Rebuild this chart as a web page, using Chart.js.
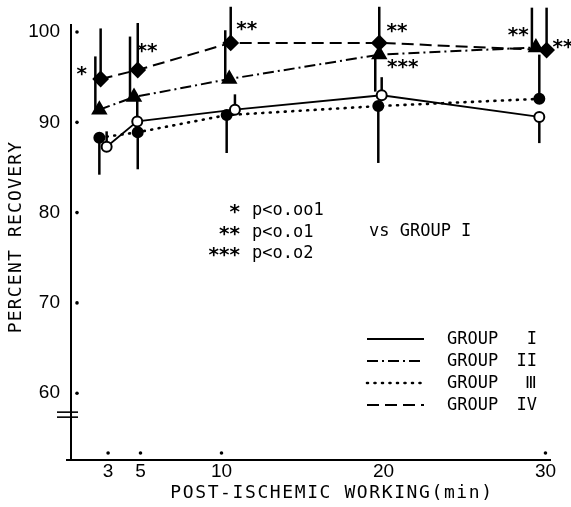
<!DOCTYPE html>
<html lang="en">
<head>
<meta charset="UTF-8">
<title>Percent recovery</title>
<script src="https://cdn.jsdelivr.net/npm/chart.js"></script>
<style>
  html, body { margin: 0; padding: 0; background: #fff; }
  canvas { display: block; }
</style>
</head>
<body>
<canvas id="chart" width="571" height="507"></canvas>
<script>
// tick labels
const xTicks = [3, 5, 10, 20, 30];
const yTicks = [60, 70, 80, 90, 100];
const xTickDots = [3, 5, 10, 30];

// plotted times (points are drawn a little off the nominal minute)
const groupIX   = [2.91, 4.80, 10.83, 19.89, 29.62];
const groupIIX  = [2.46, 4.60, 10.48, 19.74, 29.41];
const groupIIIX = [2.46, 4.83, 10.32, 19.68, 29.62];
const groupIVX  = [2.54, 4.83, 10.57, 19.74, 30.07];

// percent recovery
const groupI   = [87.3, 90.1, 91.4, 93.0, 90.6];
const groupII  = [91.4, 92.8, 94.8, 97.5, 98.3];
const groupIII = [88.3, 88.9, 90.8, 91.8, 92.6];
const groupIV  = [94.8, 95.8, 98.8, 98.8, 98.0];

// error bar ends (null = no bar on that side)
const groupIHigh   = [89.0, 92.8, 93.1, 95.0, null];
const groupILow    = [null, null, null, null, 87.7];
const groupIIHigh  = [97.3, 99.5, 100.2, null, 102.7];
const groupIILow   = [null, null, null, 93.4, null];
const groupIIIHigh = [null, null, null, null, 97.5];
const groupIIILow  = [84.2, 84.8, 86.6, 85.5, null];
const groupIVHigh  = [100.4, 101.0, 102.8, 102.8, 102.7];
const groupIVLow   = [null, null, null, null, null];

// significance marks
const starText = ['*', '**', '**', '**', '***', '**', '**'];
const starX    = [1.37, 5.40, 11.56, 20.83, 21.19, 28.32, 31.08];
const starY    = [95.5, 98.0, 100.5, 100.2, 96.2, 99.8, 98.4];

const legendStars = ['*', '**', '***'];
const legendP = ['p<o.oo1', 'p<o.o1', 'p<o.o2'];
const legendGroups = ['I', 'II', 'Ⅲ', 'IV'];

const MONO = '"DejaVu Sans Mono", monospace';
const STAR = 'bold 20px "DejaVu Sans", sans-serif';

function pts(xs, ys) { return xs.map((x, i) => ({ x: x, y: ys[i] })); }

const groups = [
  { label: 'GROUP I', data: pts(groupIX, groupI), hi: groupIHigh, lo: groupILow,
    borderDash: [], pointStyle: 'circle', pointRadius: 5, bg: '#fff', barShift: 0, lw: 1.8 },
  { label: 'GROUP II', data: pts(groupIIX, groupII), hi: groupIIHigh, lo: groupIILow,
    borderDash: [11, 4, 2, 4], pointStyle: 'triangle', pointRadius: 7.5, bg: '#000', barShift: -4, lw: 2 },
  { label: 'GROUP III', data: pts(groupIIIX, groupIII), hi: groupIIIHigh, lo: groupIIILow,
    borderDash: [1, 6.5], pointStyle: 'circle', pointRadius: 5, bg: '#000', barShift: 0, lw: 2.6 },
  { label: 'GROUP IV', data: pts(groupIVX, groupIV), hi: groupIVHigh, lo: groupIVLow,
    borderDash: [12, 6], pointStyle: 'rectRot', pointRadius: 7, bg: '#000', barShift: 0, lw: 2 }
];

const decor = {
  id: 'decor',
  beforeDatasetsDraw(chart) {
    const ctx = chart.ctx, xs = chart.scales.x, ys = chart.scales.y;
    ctx.save();
    ctx.strokeStyle = '#000';
    ctx.lineWidth = 2.5;
    groups.forEach(g => {
      g.data.forEach((p, i) => {
        const px = xs.getPixelForValue(p.x) + g.barShift;
        const py = ys.getPixelForValue(p.y);
        [g.hi[i], g.lo[i]].forEach(end => {
          if (end === null) return;
          ctx.beginPath();
          ctx.moveTo(px, py);
          ctx.lineTo(px, ys.getPixelForValue(end));
          ctx.stroke();
        });
      });
    });
    ctx.restore();
  },
  afterDraw(chart) {
    const ctx = chart.ctx, xs = chart.scales.x, ys = chart.scales.y, a = chart.chartArea;
    ctx.save();
    ctx.fillStyle = '#000';
    ctx.strokeStyle = '#000';

    // tick dots inside the frame
    yTicks.forEach(v => {
      ctx.beginPath();
      ctx.arc(a.left + 6, ys.getPixelForValue(v), 1.8, 0, Math.PI * 2);
      ctx.fill();
    });
    xTickDots.forEach(v => {
      ctx.beginPath();
      ctx.arc(xs.getPixelForValue(v), a.bottom - 7, 1.8, 0, Math.PI * 2);
      ctx.fill();
    });

    // x axis runs a bit past the y axis
    ctx.lineWidth = 2;
    ctx.beginPath();
    ctx.moveTo(a.left - 5, a.bottom);
    ctx.lineTo(a.left, a.bottom);
    ctx.stroke();

    // axis break
    const yb = ys.getPixelForValue(57.9);
    ctx.lineWidth = 1.6;
    [yb, yb + 5].forEach(y => {
      ctx.beginPath();
      ctx.moveTo(a.left - 14, y);
      ctx.lineTo(a.left + 7, y);
      ctx.stroke();
    });

    // significance stars on the plot
    ctx.font = STAR;
    ctx.textAlign = 'center';
    ctx.textBaseline = 'alphabetic';
    starText.forEach((t, i) => {
      ctx.fillText(t, xs.getPixelForValue(starX[i]), ys.getPixelForValue(starY[i]) + 7);
    });

    // star key
    legendStars.forEach((s, i) => {
      const y = 211 + i * 21.5;
      ctx.font = STAR;
      ctx.textAlign = 'right';
      ctx.textBaseline = 'alphabetic';
      ctx.fillText(s, 240, y + 7);
      ctx.font = '17px ' + MONO;
      ctx.textAlign = 'left';
      ctx.textBaseline = 'middle';
      ctx.fillText(legendP[i], 252, y);
    });
    ctx.fillText('vs GROUP I', 369, 232);

    // line key
    groups.forEach((g, i) => {
      const y = 339 + i * 22;
      ctx.lineWidth = g.lw;
      ctx.lineCap = g.borderDash.length && g.borderDash[0] < 2 ? 'round' : 'butt';
      ctx.setLineDash(g.borderDash);
      ctx.beginPath();
      ctx.moveTo(367, y);
      ctx.lineTo(424, y);
      ctx.stroke();
      ctx.setLineDash([]);
      ctx.textAlign = 'left';
      ctx.fillText('GROUP', 447, y + 1);
      ctx.textAlign = 'right';
      ctx.fillText(legendGroups[i], 537, y + 1);
    });

    // axis titles
    ctx.font = '18px ' + MONO;
    ctx.textAlign = 'center';
    ctx.textBaseline = 'middle';
    ctx.letterSpacing = '1.6px';
    ctx.fillText('POST-ISCHEMIC WORKING(min)', 332, 493);
    ctx.letterSpacing = '1.2px';
    ctx.translate(16, 237);
    ctx.rotate(-Math.PI / 2);
    ctx.fillText('PERCENT RECOVERY', 0, 0);
    ctx.restore();
  }
};

new Chart(document.getElementById('chart').getContext('2d'), {
  type: 'line',
  data: {
    datasets: groups.map(g => ({
      label: g.label,
      data: g.data,
      borderColor: '#000',
      borderWidth: g.lw,
      borderDash: g.borderDash,
      borderCapStyle: g.borderDash.length && g.borderDash[0] < 2 ? 'round' : 'butt',
      pointStyle: g.pointStyle,
      pointRadius: g.pointRadius,
      pointBackgroundColor: g.bg,
      pointBorderColor: '#000',
      pointBorderWidth: 2,
      fill: false,
      tension: 0,
      clip: false
    }))
  },
  options: {
    responsive: false,
    animation: false,
    devicePixelRatio: 1,
    layout: { padding: { top: 25, right: 21, left: 0, bottom: 0 } },
    plugins: { legend: { display: false }, tooltip: { enabled: false } },
    scales: {
      x: {
        type: 'linear', min: 0.71, max: 30.28,
        afterFit: s => { s.height = 47; },
        afterBuildTicks: s => { s.ticks = xTicks.map(v => ({ value: v })); },
        grid: { display: false },
        border: { display: true, color: '#000', width: 2 },
        ticks: { color: '#000', padding: -8, font: { family: 'Liberation Sans', size: 19 } }
      },
      y: {
        type: 'linear', min: 52.6, max: 100.78,
        afterFit: s => { s.width = 71; },
        afterBuildTicks: s => { s.ticks = yTicks.map(v => ({ value: v })); },
        grid: { display: false },
        border: { display: true, color: '#000', width: 2 },
        ticks: { color: '#000', padding: 3, font: { family: 'Liberation Sans', size: 19 } }
      }
    }
  },
  plugins: [decor]
});
</script>
</body>
</html>
